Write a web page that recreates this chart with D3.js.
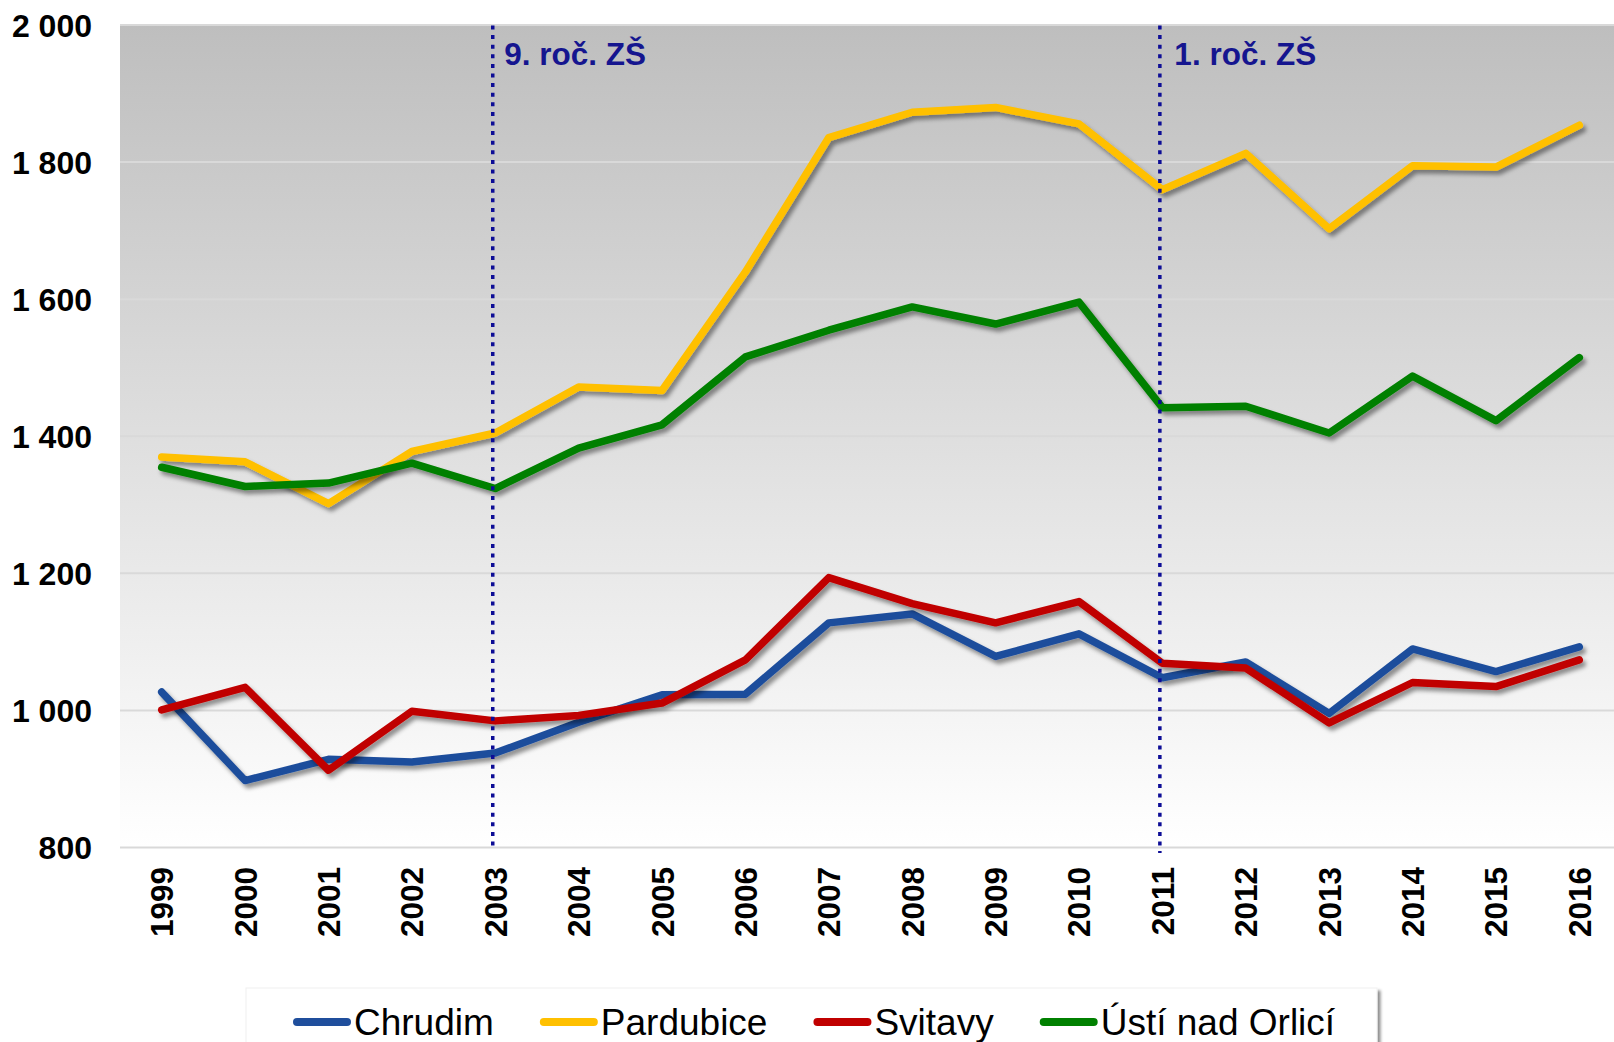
<!DOCTYPE html>
<html>
<head>
<meta charset="utf-8">
<script src="https://cdnjs.cloudflare.com/ajax/libs/d3/7.8.5/d3.min.js"></script>
<style>
  html, body { margin: 0; padding: 0; background: #fff; }
  svg { display: block; font-family: "Liberation Sans", Arial, sans-serif; }
</style>
</head>
<body>
<svg></svg>
<script>
var years = [1999, 2000, 2001, 2002, 2003, 2004, 2005, 2006, 2007, 2008, 2009, 2010, 2011, 2012, 2013, 2014, 2015, 2016];
var chrudim    = [1026, 897, 928, 924, 937, 982, 1022, 1023, 1127, 1140, 1078, 1111, 1047, 1070, 995, 1089, 1056, 1092];
var pardubice  = [1369, 1362, 1301, 1377, 1404, 1471, 1466, 1639, 1835, 1872, 1879, 1855, 1759, 1812, 1702, 1794, 1792, 1853];
var svitavy    = [1000, 1033, 912, 998, 984, 992, 1010, 1073, 1193, 1155, 1127, 1158, 1068, 1061, 981, 1040, 1034, 1073];
var ustiNadOrl = [1354, 1326, 1331, 1360, 1323, 1382, 1416, 1515, 1554, 1588, 1563, 1595, 1441, 1443, 1404, 1487, 1422, 1514];
var seriesNames = ['Chrudim', 'Pardubice', 'Svitavy', 'Ústí nad Orlicí'];
var seriesColors = ['#1f4e9c', '#ffc000', '#c00000', '#008000'];
var yTicks = [800, 1000, 1200, 1400, 1600, 1800, 2000];
var markers = [{ year: 2003, label: '9. roč. ZŠ' }, { year: 2011, label: '1. roč. ZŠ' }];

var width = 1614;
var height = 1042;
var plotLeft = 120, plotTop = 24.5, plotBottom = 847;

var series = [chrudim, pardubice, svitavy, ustiNadOrl].map(function(vals, i) {
  return { name: seriesNames[i], color: seriesColors[i], values: vals };
});

var svg = d3.select('svg')
            .attr('width', width)
            .attr('height', height);

var defs = svg.append('defs');

var grad = defs.append('linearGradient')
    .attr('id', 'bg')
    .attr('x1', 0).attr('y1', 0)
    .attr('x2', 0).attr('y2', 1);
grad.append('stop').attr('offset', '0%').attr('stop-color', '#bebebe');
grad.append('stop').attr('offset', '100%').attr('stop-color', '#ffffff');

defs.append('filter')
    .attr('id', 'shadow')
    .attr('x', '-10%').attr('y', '-10%')
    .attr('width', '120%').attr('height', '130%')
  .append('feDropShadow')
    .attr('dx', 3).attr('dy', 4)
    .attr('stdDeviation', 2.2)
    .attr('flood-color', '#000')
    .attr('flood-opacity', 0.42);

defs.append('filter')
    .attr('id', 'boxshadow')
  .append('feDropShadow')
    .attr('dx', 3).attr('dy', 3)
    .attr('stdDeviation', 1.6)
    .attr('flood-color', '#000')
    .attr('flood-opacity', 0.45);

var xScale = d3.scalePoint()
               .domain(years)
               .range([plotLeft, 1621])
               .padding(0.5);

var yScale = d3.scaleLinear()
               .domain([800, 2000])
               .range([plotBottom, plotTop]);

// plot background
svg.append('rect')
    .attr('x', plotLeft)
    .attr('y', plotTop)
    .attr('width', width - plotLeft)
    .attr('height', plotBottom - plotTop)
    .attr('fill', 'url(#bg)');

// gridlines + y labels
svg.append('g')
    .attr('transform', 'translate(' + plotLeft + ',0)')
    .call(d3.axisLeft(yScale)
            .tickValues(yTicks)
            .tickSize(-(width - plotLeft))
            .tickPadding(28)
            .tickFormat(function(d) { return d3.format(',')(d).replace(',', ' '); }))
    .call(function(g) {
      g.select('.domain').remove();
      g.selectAll('.tick line')
          .attr('stroke', '#d9d9d9')
          .attr('stroke-width', 2);
      g.selectAll('.tick text')
          .attr('fill', '#000')
          .attr('font-size', 32)
          .attr('font-weight', 'bold')
          .attr('font-family', '"Liberation Sans", Arial, sans-serif')
          .attr('dy', '0.36em');
    });

// x labels
svg.append('g')
    .selectAll('text')
    .data(years)
    .enter()
    .append('text')
      .attr('transform', d => 'translate(' + (xScale(d) + 11.5) + ',' + 867 + ') rotate(-90)')
      .attr('text-anchor', 'end')
      .attr('font-size', 31.5)
      .attr('font-weight', 'bold')
      .text(d => d);

// series lines
var line = d3.line()
             .x((d, i) => xScale(years[i]))
             .y(d => yScale(d));

svg.append('g')
    .selectAll('path')
    .data(series)
    .enter()
    .append('path')
      .attr('d', d => line(d.values))
      .attr('fill', 'none')
      .attr('stroke', d => d.color)
      .attr('stroke-width', 7.5)
      .attr('stroke-linejoin', 'round')
      .attr('stroke-linecap', 'round')
      .attr('filter', 'url(#shadow)');

// marker lines
var mk = svg.append('g')
            .selectAll('g')
            .data(markers)
            .enter()
            .append('g');

mk.append('line')
    .attr('x1', d => xScale(d.year) - 2.5)
    .attr('x2', d => xScale(d.year) - 2.5)
    .attr('y1', plotTop + 1)
    .attr('y2', (d, i) => i === 0 ? plotBottom : plotBottom + 6)
    .attr('stroke', '#0d0d96')
    .attr('stroke-width', 3.5)
    .attr('stroke-dasharray', '4 5.6');

mk.append('text')
    .attr('x', (d, i) => xScale(d.year) + (i === 0 ? 9 : 12))
    .attr('y', 65)
    .attr('fill', '#15158f')
    .attr('font-size', 31.5)
    .attr('font-weight', 'bold')
    .text(d => d.label);

// legend
var legend = svg.append('g');

legend.append('rect')
    .attr('x', 246)
    .attr('y', 988)
    .attr('width', 1131)
    .attr('height', 80)
    .attr('fill', '#fff')
    .attr('stroke', '#f0f0f0')
    .attr('stroke-width', 1)
    .attr('filter', 'url(#boxshadow)');

var lx = 293;
series.forEach(function(s) {
  legend.append('line')
      .attr('x1', lx + 4)
      .attr('x2', lx + 54)
      .attr('y1', 1022)
      .attr('y2', 1022)
      .attr('stroke', s.color)
      .attr('stroke-width', 8)
      .attr('stroke-linecap', 'round');
  var t = legend.append('text')
      .attr('x', lx + 61)
      .attr('y', 1035)
      .attr('font-size', 37)
      .attr('fill', '#000')
      .text(s.name);
  lx += 61 + t.node().getComputedTextLength() + 46;
});
</script>
</body>
</html>
